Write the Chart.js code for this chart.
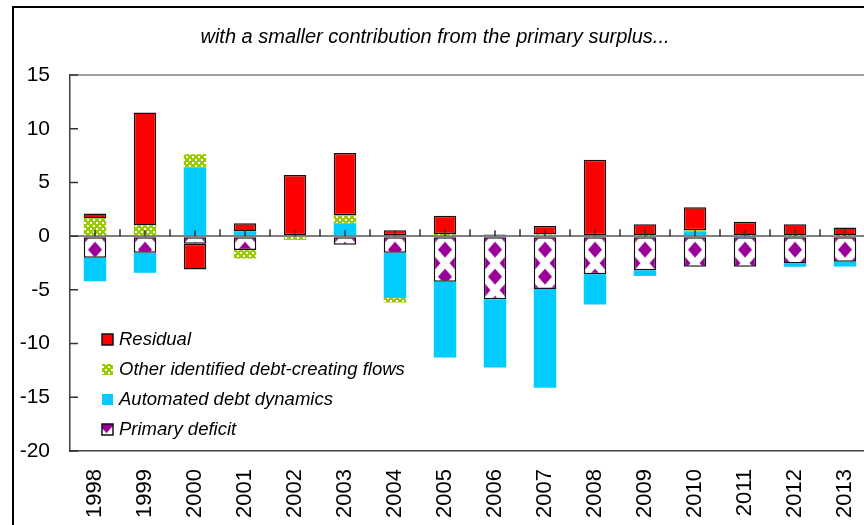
<!DOCTYPE html>
<html>
<head>
<meta charset="utf-8">
<script src="https://cdn.jsdelivr.net/npm/chart.js@4.4.0/dist/chart.umd.min.js"></script>
<style>
  body { margin: 0; overflow: hidden; background: #fff; }
  #wrap { position: absolute; left: 0; top: 0; width: 870px; height: 525px; }
  #frame { position: absolute; left: 12px; top: 6px; width: 900px; height: 600px;
           border-left: 2px solid #000; border-top: 2px solid #000; pointer-events: none; }
</style>
</head>
<body>
<div id="wrap"><canvas id="chart1"></canvas></div>
<div id="frame"></div>
<script>
//Data
var years = ['1998', '1999', '2000', '2001', '2002', '2003', '2004', '2005',
             '2006', '2007', '2008', '2009', '2010', '2011', '2012', '2013'];
var primaryDeficit = [-2.0, -1.55, -0.7, -1.3, 0.1, -0.8, -1.55, -4.25,
                      -5.87, -4.93, -3.54, -3.17, -2.86, -2.86, -2.55, -2.38];
var automatedDynamics = [-2.2, -1.86, 6.36, 0.44, 0, 1.2, -4.2, -7.05,
                         -6.36, -9.19, -2.82, -0.53, 0.45, 0, -0.3, -0.45];
var otherFlows = [1.65, 1.0, 1.27, -0.78, -0.35, 0.75, -0.43, 0.2,
                  0, 0.15, 0, 0.05, 0.1, 0.05, 0.05, 0.05];
var residual = [0.45, 10.5, -2.4, 0.75, 5.6, 5.8, 0.55, 1.7,
                0.15, 0.8, 7.1, 1.05, 2.15, 1.3, 1.05, 0.75];
var yTicks = [-20, -15, -10, -5, 0, 5, 10, 15];
var titleText = 'with a smaller contribution from the primary surplus...';

var FONT = "'Liberation Sans', Arial, sans-serif";

//Green checker pattern for the "other flows" series
function makeCheckerPattern() {
    var c = document.createElement('canvas');
    c.width = 6;
    c.height = 6;
    var g = c.getContext('2d');
    g.fillStyle = '#99cc00';
    g.fillRect(0, 0, 6, 6);
    g.fillStyle = '#ffffff';
    g.fillRect(0, 0, 2, 2);
    g.fillRect(3, 3, 2, 2);
    return g.createPattern(c, 'repeat');
}

//White with purple diamonds, one tile per category width
function makeDiamondPattern() {
    var w = 50, h = 27;
    var c = document.createElement('canvas');
    c.width = w;
    c.height = h;
    var g = c.getContext('2d');
    g.fillStyle = '#ffffff';
    g.fillRect(0, 0, w, h);
    g.fillStyle = '#990099';
    function diamond(cx, cy) {
        g.beginPath();
        g.moveTo(cx, cy - 8);
        g.lineTo(cx + 7, cy);
        g.lineTo(cx, cy + 8);
        g.lineTo(cx - 7, cy);
        g.closePath();
        g.fill();
    }
    diamond(25, 13.5);
    diamond(13.5, 0);
    diamond(13.5, 27);
    diamond(36.5, 0);
    diamond(36.5, 27);
    return g.createPattern(c, 'repeat');
}

var checker = makeCheckerPattern();
var diamonds = makeDiamondPattern();

//Lines and ticks the default axes do not draw, plus the legend inside the plot
var extrasPlugin = {
    id: 'extras',
    beforeDatasetsDraw: function(chart) {
        var x = chart.scales.x, y = chart.scales.y;
        var tile = x.getPixelForValue(1) - x.getPixelForValue(0);
        var x0 = x.getPixelForValue(0) - tile / 2;
        diamonds.setTransform(new DOMMatrix([tile / 50, 0, 0, 1, x0, y.getPixelForValue(0)]));
    },
    afterDatasetsDraw: function(chart) {
        var ctx = chart.ctx;
        var x = chart.scales.x, y = chart.scales.y;
        var area = chart.chartArea;
        var zero = y.getPixelForValue(0);
        ctx.save();
        ctx.strokeStyle = '#333333';
        ctx.lineWidth = 1.5;
        ctx.beginPath();
        for (i = 0; i < years.length; i++) {
            var cx = x.getPixelForValue(i);
            var bx = cx + (x.getPixelForValue(1) - x.getPixelForValue(0)) / 2;
            ctx.moveTo(cx, zero - 6);
            ctx.lineTo(cx, zero);
            ctx.moveTo(bx, zero - 7);
            ctx.lineTo(bx, zero);
        }
        for (i = 0; i < yTicks.length; i++) {
            var ty = y.getPixelForValue(yTicks[i]);
            ctx.moveTo(area.left, ty);
            ctx.lineTo(area.left + 8, ty);
        }
        ctx.stroke();

        //legend, drawn in reverse order like the reference
        var ds = chart.data.datasets;
        var top = 339;
        ctx.font = 'italic 18.5px ' + FONT;
        ctx.textBaseline = 'middle';
        ctx.textAlign = 'left';
        for (i = ds.length - 1; i >= 0; i--) {
            var row = top + (ds.length - 1 - i) * 30;
            ctx.fillStyle = ds[i].backgroundColor;
            ctx.fillRect(102, row - 5, 11, 11);
            if (ds[i].borderWidth > 0) {
                ctx.strokeStyle = '#111111';
                ctx.lineWidth = 1.5;
                ctx.strokeRect(102, row - 5, 11, 11);
            }
            ctx.fillStyle = '#000000';
            ctx.fillText(ds[i].label, 119, row + 1);
        }
        ctx.restore();
    }
};

const CHART1 = document.getElementById('chart1');
let debtChart = new Chart(CHART1, {
    type: 'bar',
    data: {
        labels: years,
        datasets: [
            {
                label: 'Primary deficit',
                backgroundColor: diamonds,
                borderColor: '#111111',
                borderWidth: 1.5,
                borderSkipped: false,
                data: primaryDeficit
            },
            {
                label: 'Automated debt dynamics',
                backgroundColor: '#00ccff',
                borderWidth: 0,
                data: automatedDynamics
            },
            {
                label: 'Other identified debt-creating flows',
                backgroundColor: checker,
                borderWidth: 0,
                data: otherFlows
            },
            {
                label: 'Residual',
                backgroundColor: '#ff0000',
                borderColor: '#111111',
                borderWidth: 1.5,
                borderSkipped: false,
                data: residual
            }
        ]
    },
    options: {
        responsive: true,
        maintainAspectRatio: false,
        animation: false,
        events: [],
        layout: { padding: { top: 0, left: 0, right: 0, bottom: 0 } },
        datasets: {
            bar: { barPercentage: 0.45, categoryPercentage: 1 }
        },
        plugins: {
            legend: { display: false },
            tooltip: { enabled: false },
            title: {
                display: true,
                text: titleText,
                color: '#000000',
                font: { family: FONT, size: 20, style: 'italic', weight: 'normal' },
                padding: { top: 25, bottom: 26 }
            }
        },
        scales: {
            x: {
                stacked: true,
                grid: { display: false, drawTicks: false },
                border: { display: true, color: '#404040', width: 1.5 },
                ticks: {
                    color: '#000000',
                    font: { family: FONT, size: 22 },
                    minRotation: 90,
                    maxRotation: 90,
                    padding: 18,
                    autoSkip: false
                },
                afterFit: function(scale) {
                    scale.height = 74;
                    scale.paddingLeft = 0;
                    scale.paddingRight = 0;
                }
            },
            y: {
                stacked: true,
                min: -20,
                max: 15,
                afterBuildTicks: function(scale) {
                    scale.ticks = yTicks.map(function(v) { return { value: v }; });
                },
                grid: {
                    drawTicks: false,
                    color: function(c) {
                        if (c.tick.value === 0) return '#808080';
                        if (c.tick.value === 15) return '#a0a0a0';
                        return 'rgba(0,0,0,0)';
                    },
                    lineWidth: 2
                },
                border: { display: true, color: '#404040', width: 1.5 },
                ticks: {
                    color: '#000000',
                    font: { family: FONT, size: 21 },
                    padding: 20
                },
                afterFit: function(scale) { scale.width = 70; }
            }
        }
    },
    plugins: [extrasPlugin]
});
</script>
</body>
</html>
